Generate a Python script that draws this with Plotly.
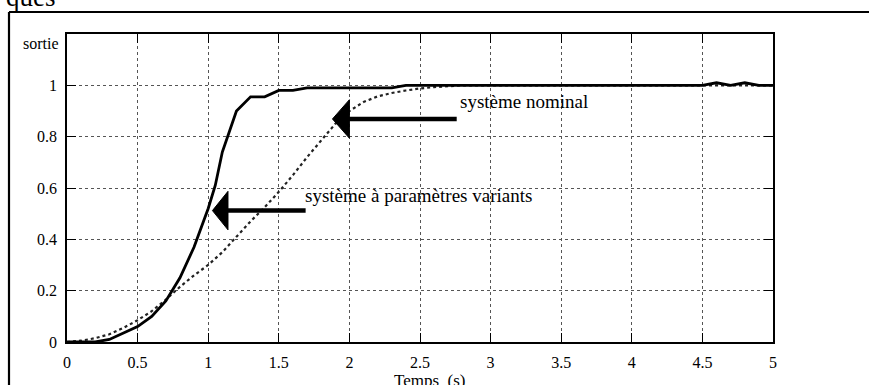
import plotly.graph_objects as go

# Step responses: time (s) and output values
t_variant = [0, 0.1, 0.2, 0.3, 0.4, 0.5, 0.6, 0.7, 0.8, 0.9, 1.0, 1.05, 1.1, 1.2,
             1.3, 1.4, 1.5, 1.6, 1.7, 2.3, 2.4, 4.5, 4.6, 4.7, 4.8, 4.9, 5.0]
y_variant = [0, 0, 0, 0.01, 0.035, 0.06, 0.1, 0.16, 0.25, 0.37, 0.52, 0.61, 0.74, 0.90,
             0.955, 0.955, 0.98, 0.98, 0.99, 0.99, 1.0, 1.0, 1.01, 1.0, 1.01, 1.0, 1.0]

t_nominal = [0, 0.1, 0.2, 0.3, 0.4, 0.5, 0.6, 0.7, 0.8, 0.9, 1.0, 1.1, 1.2, 1.3, 1.4,
             1.5, 1.6, 1.7, 1.8, 1.9, 2.0, 2.1, 2.2, 2.3, 2.4, 2.5, 2.6, 2.7, 2.8,
             3.0, 3.5, 4.0, 4.5, 5.0]
y_nominal = [0, 0.005, 0.015, 0.03, 0.055, 0.085, 0.12, 0.165, 0.215, 0.26, 0.30,
             0.35, 0.41, 0.47, 0.525, 0.585, 0.65, 0.72, 0.785, 0.85, 0.90, 0.935,
             0.957, 0.97, 0.98, 0.988, 0.993, 0.997, 1.0, 1.0, 1.0, 1.0, 1.0, 1.0]

x_ticks = [0, 0.5, 1, 1.5, 2, 2.5, 3, 3.5, 4, 4.5, 5]
x_tick_labels = ["0", "0.5", "1", "1.5", "2", "2.5", "3", "3.5", "4", "4.5", "5"]
y_ticks = [0, 0.2, 0.4, 0.6, 0.8, 1]
y_tick_labels = ["0", "0.2", "0.4", "0.6", "0.8", "1"]

# Labelled arrows: (text, tip_x, tip_y, head_base_x, tail_x, text_x, text_y)
label_nominal = ("système nominal", 1.88, 0.869, 2.0, 2.76, 2.77, 0.936)
label_variant = ("système à paramètres variants", 1.03, 0.512, 1.14, 1.69, 1.67, 0.569)

W, H = 869, 385
ML, MR, MT, MB = 67, 96, 34, 43
PW, PH = W - ML - MR, H - MT - MB


def px_x(px):
    return (px - ML) / PW


def px_y(py):
    return 1 - (py - MT) / PH


SERIF = "Liberation Serif, Times New Roman, Times, DejaVu Serif, serif"

fig = go.Figure()
fig.add_trace(go.Scatter(x=t_nominal, y=y_nominal, mode="lines",
                         line=dict(color="#222", width=2.2, dash="dot"),
                         showlegend=False, hoverinfo="skip"))
fig.add_trace(go.Scatter(x=t_variant, y=y_variant, mode="lines",
                         line=dict(color="black", width=2.8),
                         showlegend=False, hoverinfo="skip"))

shapes = []
annotations = []
for text, tx, ty, bx, ex, lx, ly in (label_nominal, label_variant):
    half = 0.075
    shapes.append(dict(type="line", xref="x", yref="y", x0=bx - 0.01, y0=ty, x1=ex, y1=ty,
                       line=dict(color="black", width=4.5)))
    shapes.append(dict(type="path", xref="x", yref="y",
                       path=f"M {tx},{ty} L {bx},{ty + half} L {bx},{ty - half} Z",
                       fillcolor="black", line=dict(color="black", width=1)))
    annotations.append(dict(text=text, x=lx, y=ly, xref="x", yref="y",
                            xanchor="left", yanchor="middle", showarrow=False,
                            font=dict(family=SERIF, size=19, color="black")))

# outer frame around the figure
shapes.append(dict(type="line", xref="paper", yref="paper",
                   x0=px_x(9), y0=px_y(12), x1=px_x(W + 5), y1=px_y(12),
                   line=dict(color="black", width=2.2)))
shapes.append(dict(type="line", xref="paper", yref="paper",
                   x0=px_x(9), y0=px_y(12), x1=px_x(9), y1=px_y(H + 5),
                   line=dict(color="black", width=2.2)))

annotations += [
    dict(text="sortie", x=px_x(61), y=px_y(44), xref="paper", yref="paper",
         xanchor="right", yanchor="middle", showarrow=False,
         font=dict(family=SERIF, size=16, color="black")),
    dict(text="Temps  (s)", x=px_x(430), y=px_y(369), xref="paper", yref="paper",
         xanchor="center", yanchor="top", showarrow=False,
         font=dict(family=SERIF, size=17, color="black")),
    dict(text="ques", x=px_x(4), y=px_y(14), xref="paper", yref="paper",
         xanchor="left", yanchor="bottom", showarrow=False,
         font=dict(family=SERIF, size=27, color="black")),
]

axis_common = dict(showline=True, linecolor="black", linewidth=1.5, mirror="ticks",
                   ticks="inside", ticklen=9, tickcolor="black", tickwidth=1,
                   showgrid=True, gridcolor="#555", griddash="dot", gridwidth=1,
                   zeroline=False, tickfont=dict(family=SERIF, size=16, color="black"))

fig.update_layout(
    width=W, height=H,
    margin=dict(l=ML, r=MR, t=MT, b=MB),
    paper_bgcolor="white", plot_bgcolor="white",
    xaxis=dict(range=[0, 5], tickvals=x_ticks, ticktext=x_tick_labels,
               ticklabelstandoff=5, **axis_common),
    yaxis=dict(range=[0, 1.2], tickvals=y_ticks, ticktext=y_tick_labels,
               ticklabelstandoff=5, **axis_common),
    shapes=shapes, annotations=annotations,
)

fig.write_html("out.html")
